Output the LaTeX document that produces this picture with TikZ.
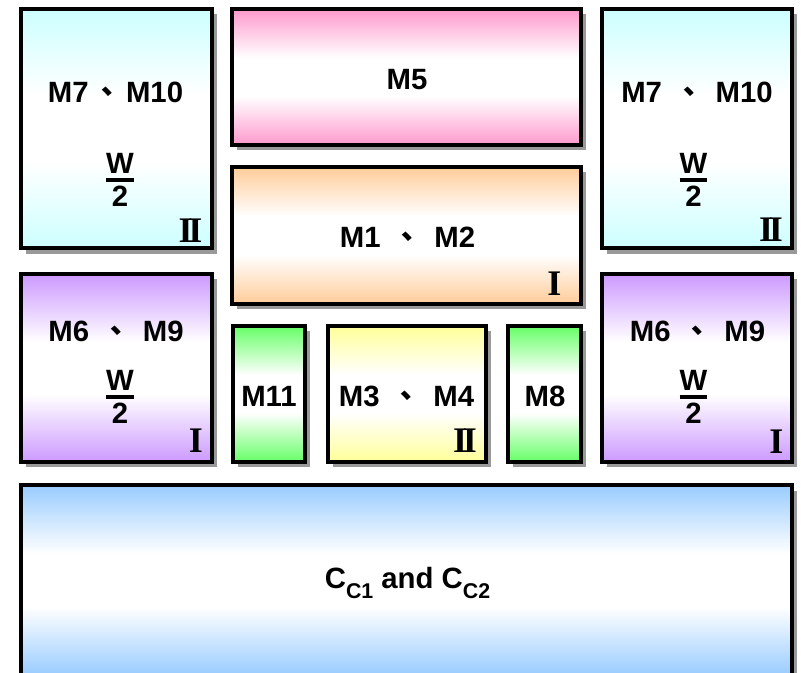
\documentclass[tikz,border=0pt]{standalone}
\usepackage{amsmath}
\usepackage{fontspec}
\setmainfont{Liberation Sans}
\newfontfamily\cjk{Noto Sans CJK TC}
\newfontfamily\romanfont{Liberation Serif}
\usetikzlibrary{fit,shadows}

% fill colours of the blocks
\definecolor{aqua}{HTML}{CCFFFF}
\definecolor{rose}{HTML}{FF99CC}
\definecolor{peach}{HTML}{FFCC99}
\definecolor{lilac}{HTML}{CC99FF}
\definecolor{lime}{HTML}{66FF66}
\definecolor{lemon}{HTML}{FFFF99}
\definecolor{sky}{HTML}{99CCFF}

% colour at top and bottom, white band in the middle
\colorlet{tintcol}{white}
\pgfdeclareverticalshading[tintcol]{fadeband}{100bp}{color(0bp)=(tintcol);
  color(25bp)=(tintcol); color(43bp)=(white); color(57bp)=(white);
  color(75bp)=(tintcol); color(100bp)=(tintcol)}

\newcommand{\dun}{{\hspace{3pt}\cjk 、\hspace{3pt}}}
\newcommand{\halfw}{$\genfrac{}{}{3pt}{1}{\mbox{W}}{\mbox{2}}$}
\newcommand{\gradeone}{I}
\newcommand{\gradetwo}{I\kern-0.12em I}

\begin{document}
\begin{tikzpicture}[x=0.75pt,y=-0.75pt,
font=\fontsize{22}{26}\selectfont\bfseries]
\tikzstyle{block}=[draw=black, line width=3pt, inner sep=0pt,
/utils/exec={\colorlet{tintcol}{#1}}, shade, shading=fadeband,
drop shadow={shadow xshift=4pt, shadow yshift=-4pt, fill=black!40, opacity=1}]
\tikzstyle{blocktext}=[anchor=base, inner sep=0pt]
\tikzstyle{gradetext}=[inner sep=0pt, font=\romanfont\bfseries\fontsize{27}{27}\selectfont]
\tikzstyle{ratiotext}=[inner sep=0pt]

\useasboundingbox (0,0) rectangle (801,673);

% top row
\node[block=aqua, fit={(21,9) (211.5,248.5)}] (M7L) {};
\node[block=rose, fit={(232,9) (581,145)}] (M5) {};
\node[block=peach, fit={(232,167) (581,304)}] (M12) {};
\node[block=aqua, fit={(602,9) (791.5,248.5)}] (M7R) {};

% middle row
\node[block=lilac, fit={(21,274) (211.5,462)}] (M6L) {};
\node[block=lime, fit={(233,326) (305,462)}] (M11) {};
\node[block=lemon, fit={(328,326) (486,462)}] (M34) {};
\node[block=lime, fit={(508,326) (581,462)}] (M8) {};
\node[block=lilac, fit={(602,274) (791.5,462)}] (M6R) {};

% capacitors
\node[block=sky, fit={(21,485.5) (791.5,675)}] (Cc) {};

% labels
\node[blocktext] (M7Ltxt) at (115.5,103) {M7\dun M10};
\node[ratiotext] (M7Lw) at (120,180) {\halfw};
\node[gradetext] (M7Lg) at (190.5,231) {\gradetwo};

\node[blocktext] (M5txt) at (407,90) {M5};
\node[blocktext] (M12txt) at (407.5,248) {M1 \dun{} M2};
\node[gradetext] (M12g) at (554.5,283.5) {\gradeone};

\node[blocktext] (M7Rtxt) at (697,103) {M7 \dun{} M10};
\node[ratiotext] (M7Rw) at (693.5,180) {\halfw};
\node[gradetext] (M7Rg) at (771,229.5) {\gradetwo};

\node[blocktext] (M6Ltxt) at (116,342) {M6 \dun{} M9};
\node[ratiotext] (M6Lw) at (120,397) {\halfw};
\node[gradetext] (M6Lg) at (196,441) {\gradeone};

\node[blocktext] (M11txt) at (269,407) {M11};
\node[blocktext] (M34txt) at (406.5,407) {M3 \dun{} M4};
\node[gradetext] (M34g) at (465,441) {\gradetwo};
\node[blocktext] (M8txt) at (545,407) {M8};

\node[blocktext] (M6Rtxt) at (697.5,342) {M6 \dun{} M9};
\node[ratiotext] (M6Rw) at (693.5,397) {\halfw};
\node[gradetext] (M6Rg) at (776.5,442) {\gradeone};

\node[blocktext] (Cctxt) at (407.5,589) {C\raisebox{-7.5pt}{\fontsize{16}{16}\selectfont C1}
and C\raisebox{-7.5pt}{\fontsize{16}{16}\selectfont C2}};

\end{tikzpicture}
\end{document}
